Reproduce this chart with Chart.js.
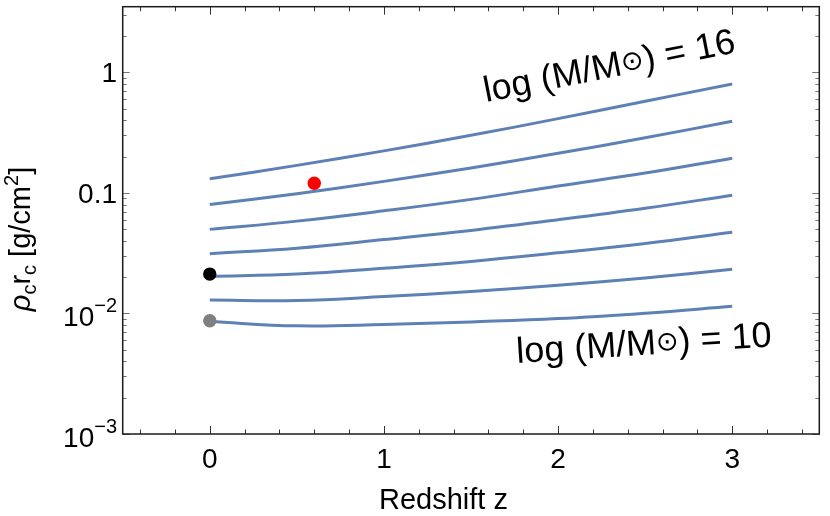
<!DOCTYPE html>
<html>
<head>
<meta charset="utf-8">
<script src="https://cdn.jsdelivr.net/npm/chart.js@4.4.1/dist/chart.umd.min.js"></script>
<style>
  html, body { margin: 0; background: #fff; }
  canvas { display: block; }
</style>
</head>
<body>
<canvas id="chart" width="830" height="516"></canvas>
<script>
/* global Chart */

// ---- data ------------------------------------------------------------------
const redshift = [0, 0.5, 1, 1.5, 2, 2.5, 3];

// rho_c * r_c [g/cm^2] for log(M/Msun) = 16 ... 10
const logM16 = [0.131, 0.169, 0.223, 0.300, 0.413, 0.575, 0.801];
const logM15 = [0.0800, 0.0985, 0.1245, 0.161, 0.213, 0.286, 0.393];
const logM14 = [0.0498, 0.0583, 0.0710, 0.0883, 0.114, 0.146, 0.194];
const logM13 = [0.0313, 0.0348, 0.0410, 0.0488, 0.0598, 0.0745, 0.0955];
const logM12 = [0.0203, 0.0212, 0.0237, 0.0270, 0.0318, 0.0380, 0.0471];
const logM11 = [0.0129, 0.0128, 0.0138, 0.0152, 0.0171, 0.0197, 0.0232];
const logM10 = [0.00857, 0.00789, 0.00809, 0.00851, 0.00906, 0.01005, 0.01146];

const redPoint = { x: 0.6, y: 0.12 };
const blackPoint = { x: 0, y: 0.0212 };
const grayPoint = { x: 0, y: 0.0087 };

// ticks
const xMajorTicks = [0, 1, 2, 3];
const xTickLabels = ['0', '1', '2', '3'];
const xMinorTicks = [-0.4, -0.2, 0.2, 0.4, 0.6, 0.8, 1.2, 1.4, 1.6, 1.8, 2.2, 2.4, 2.6, 2.8, 3.2, 3.4];
const yMajorTicks = [0.001, 0.01, 0.1, 1];
const yTickLabels = [['10', '−3'], ['10', '−2'], ['0.1'], ['1']];
const yMinorTicks = [
  0.002, 0.003, 0.004, 0.005, 0.006, 0.007, 0.008, 0.009,
  0.02, 0.03, 0.04, 0.05, 0.06, 0.07, 0.08, 0.09,
  0.2, 0.3, 0.4, 0.5, 0.6, 0.7, 0.8, 0.9,
  2, 3,
];

const LINE = '#5e81b5';
const FONT = '"Liberation Sans", Arial, Helvetica, sans-serif';

const curves = [logM16, logM15, logM14, logM13, logM12, logM11, logM10];

function pts(ys) {
  return redshift.map((z, i) => ({ x: z, y: ys[i] }));
}

// ---- helpers ---------------------------------------------------------------
// draw a run of text pieces left to right; each piece can have its own font and offset
function rich(ctx, parts, x, y, measureOnly) {
  let cx = x;
  for (const p of parts) {
    ctx.font = p.font;
    if (!measureOnly) ctx.fillText(p.t, cx, y + (p.dy || 0));
    cx += ctx.measureText(p.t).width;
  }
  return cx - x;
}

const massLabel = (n) => [
  { t: 'log (M/M', font: `36px ${FONT}` },
  { t: '⊙', font: '27px "DejaVu Sans", sans-serif', dy: -3 },
  { t: `) = ${n}`, font: `36px ${FONT}` },
];

// ---- frame, ticks and texts ------------------------------------------------
const framePlugin = {
  id: 'frame',
  afterDraw(chart) {
    const { ctx, chartArea: a, scales } = chart;
    const sx = scales.x;
    const sy = scales.y;
    ctx.save();

    // ticks pointing inward on all four sides
    ctx.lineWidth = 1;
    ctx.strokeStyle = '#333';
    const xTick = (v, len) => {
      const px = Math.round(sx.getPixelForValue(v)) + 0.5;
      ctx.beginPath();
      ctx.moveTo(px, a.bottom); ctx.lineTo(px, a.bottom - len);
      ctx.moveTo(px, a.top); ctx.lineTo(px, a.top + len);
      ctx.stroke();
    };
    xMajorTicks.forEach((v) => xTick(v, 8));
    xMinorTicks.forEach((v) => xTick(v, 4.5));

    ctx.strokeStyle = '#777';
    const yTick = (v, len) => {
      const py = Math.round(sy.getPixelForValue(v)) + 0.5;
      ctx.beginPath();
      ctx.moveTo(a.left, py); ctx.lineTo(a.left + len, py);
      ctx.moveTo(a.right, py); ctx.lineTo(a.right - len, py);
      ctx.stroke();
    };
    yMajorTicks.forEach((v) => yTick(v, 7));
    yMinorTicks.forEach((v) => yTick(v, 4));

    // frame
    ctx.strokeStyle = '#1a1a1a';
    ctx.lineWidth = 1.5;
    ctx.strokeRect(a.left, a.top, a.right - a.left, a.bottom - a.top);

    // tick labels
    ctx.fillStyle = '#000';
    ctx.textBaseline = 'alphabetic';
    ctx.textAlign = 'center';
    ctx.font = `28px ${FONT}`;
    xMajorTicks.forEach((v, i) => {
      ctx.fillText(xTickLabels[i], sx.getPixelForValue(v), 468);
    });

    ctx.textAlign = 'left';
    const yRight = 117;
    yMajorTicks.forEach((v, i) => {
      const py = sy.getPixelForValue(v);
      const lab = yTickLabels[i];
      let parts;
      let base;
      if (lab.length === 1) {
        parts = [{ t: lab[0], font: `28px ${FONT}` }];
        base = py + 10;
      } else {
        parts = [
          { t: lab[0], font: `28px ${FONT}` },
          { t: lab[1], font: `20px ${FONT}`, dy: -14 },
        ];
        base = py + 12.5;
      }
      const w = rich(ctx, parts, 0, 0, true);
      rich(ctx, parts, yRight - w, base);
    });

    // x axis title
    ctx.textAlign = 'center';
    ctx.font = `29px ${FONT}`;
    ctx.fillText('Redshift z', 443.5, 509);

    // y axis title, rotated
    ctx.textAlign = 'left';
    const yTitle = [
      { t: 'ρ', font: `italic 29px ${FONT}` },
      { t: 'c', font: `20px ${FONT}`, dy: 6 },
      { t: 'r', font: `29px ${FONT}` },
      { t: 'c', font: `20px ${FONT}`, dy: 6 },
      { t: ' [g/cm', font: `29px ${FONT}` },
      { t: '2', font: `20px ${FONT}`, dy: -12 },
      { t: ']', font: `29px ${FONT}` },
    ];
    const tw = rich(ctx, yTitle, 0, 0, true);
    ctx.save();
    ctx.translate(30, 239);
    ctx.rotate(-Math.PI / 2);
    rich(ctx, yTitle, -tw / 2, 0);
    ctx.restore();

    // curve labels
    ctx.save();
    ctx.translate(486, 102);
    ctx.rotate((-11.2 * Math.PI) / 180);
    rich(ctx, massLabel(16), 0, 0);
    ctx.restore();

    ctx.save();
    ctx.translate(517, 363);
    ctx.rotate((-3.7 * Math.PI) / 180);
    rich(ctx, massLabel(10), 0, 0);
    ctx.restore();

    ctx.restore();
  },
};

// ---- chart -----------------------------------------------------------------
const dotSet = (p, color) => ({
  type: 'scatter',
  data: [p],
  backgroundColor: color,
  borderColor: color,
  pointRadius: 6.7,
  pointBorderWidth: 0,
  order: 0,
});

const lineSets = curves.map((ys) => ({
  type: 'line',
  data: pts(ys),
  borderColor: LINE,
  borderWidth: 3,
  pointRadius: 0,
  fill: false,
  tension: 0.4,
  order: 1,
}));

new Chart(document.getElementById('chart'), {
  type: 'line',
  data: {
    datasets: [
      dotSet(redPoint, '#ff0000'),
      dotSet(blackPoint, '#000000'),
      dotSet(grayPoint, '#808080'),
      ...lineSets,
    ],
  },
  options: {
    responsive: false,
    animation: false,
    events: [],
    layout: { padding: { top: 4, right: 10.7, left: 0, bottom: 0 } },
    plugins: { legend: { display: false }, tooltip: { enabled: false } },
    scales: {
      x: {
        type: 'linear',
        min: -0.5,
        max: 3.5,
        grid: { display: false },
        border: { display: false },
        ticks: { display: false },
        afterFit(s) { s.height = 82; },
      },
      y: {
        type: 'logarithmic',
        min: 0.001,
        max: 3.5,
        grid: { display: false },
        border: { display: false },
        ticks: { display: false },
        afterFit(s) { s.width = 122.7; },
      },
    },
  },
  plugins: [framePlugin],
});
</script>
</body>
</html>
